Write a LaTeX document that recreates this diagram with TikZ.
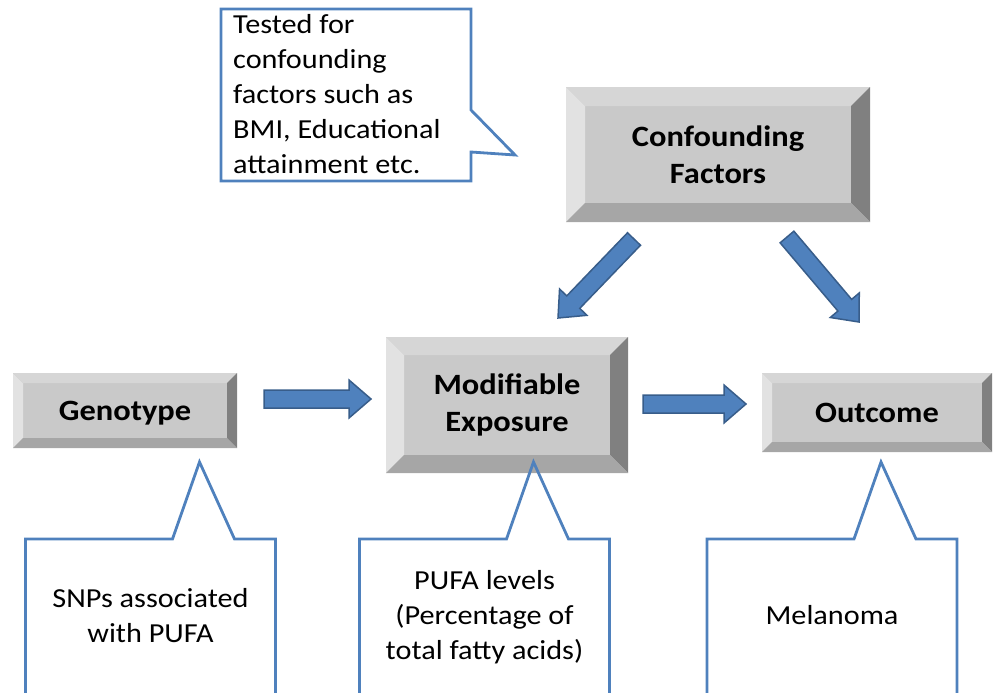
\documentclass[tikz,border=0pt]{standalone}
\usepackage{fontspec}
\setmainfont{Carlito}[FakeStretch=1.1]
\usetikzlibrary{calc}
\usetikzlibrary{positioning}

\definecolor{facegray}{RGB}{201,201,201}
\definecolor{bvleft}{RGB}{226,226,226}
\definecolor{bvtop}{RGB}{214,214,214}
\definecolor{bvright}{RGB}{128,128,128}
\definecolor{bvbottom}{RGB}{166,166,166}
\definecolor{arrfill}{RGB}{79,129,189}
\definecolor{arredge}{RGB}{56,93,138}
\definecolor{callblue}{RGB}{79,129,189}

\newcommand{\lblfont}{\fontsize{29.5}{37}\selectfont\bfseries}
\newcommand{\notefont}{\fontsize{27.5}{35}\selectfont}

\tikzset{
  bevelbox/.style={fill=facegray, inner sep=0pt, font=\lblfont, align=center,
    path picture={
      \coordinate (nw) at (path picture bounding box.north west);
      \coordinate (ne) at (path picture bounding box.north east);
      \coordinate (sw) at (path picture bounding box.south west);
      \coordinate (se) at (path picture bounding box.south east);
      \fill[bvleft] (nw) -- (sw) -- ($(sw)+(#1,#1)$) -- ($(nw)+(#1,-#1)$) -- cycle;
      \fill[bvtop] (nw) -- (ne) -- ($(ne)+(-#1,-#1)$) -- ($(nw)+(#1,-#1)$) -- cycle;
      \fill[bvright] (ne) -- (se) -- ($(se)+(-#1,#1)$) -- ($(ne)+(-#1,-#1)$) -- cycle;
      \fill[bvbottom] (sw) -- (se) -- ($(se)+(-#1,#1)$) -- ($(sw)+(#1,#1)$) -- cycle;
    }},
  bevelbox/.default=10pt,
  blockarr/.style={fill=arrfill, draw=arredge, line width=1.5pt, line join=miter},
  notetext/.style={font=\notefont, inner sep=0pt, align=center},
  calloutline/.style={draw=callblue, line width=2.8pt, line join=miter}
}

% block arrow from tail (#1) to tip (#2)
\newcommand{\blockarrow}[2]{%
  \coordinate (hb) at ($(#2)!22pt!(#1)$);
  \filldraw[blockarr] ($(#1)!9pt!90:(#2)$) -- ($(hb)!9pt!90:(#2)$) -- ($(hb)!19pt!90:(#2)$) -- (#2)
    -- ($(hb)!19pt!-90:(#2)$) -- ($(hb)!9pt!-90:(#2)$) -- ($(#1)!9pt!-90:(#2)$) -- cycle;}

% callout under a text node, pointing up
\newcommand{\calloutup}[1]{%
  \coordinate (cu) at (#1 |- 0,539);
  \draw[calloutline] ($(cu)+(-125,0)$) -- ($(cu)+(22,0)$) -- ($(cu)+(49,-77)$) -- ($(cu)+(84,0)$)
    -- ($(cu)+(125,0)$) -- ($(cu)+(125,160)$) -- ($(cu)+(-125,160)$) -- cycle;}

\begin{document}
\begin{tikzpicture}[x=1pt,y=-1pt]
\useasboundingbox (0,0) rectangle (993,693);
\clip (0,0) rectangle (993,693);

% boxes
\node[bevelbox=19pt, minimum width=304pt, minimum height=135pt] (conf) at (718,154.5) {Confounding\\Factors};
\node[bevelbox, minimum width=224pt, minimum height=75pt, text depth=0pt] (geno) at (125,410.5) {Genotype};
\node[bevelbox=18pt, minimum width=242pt, minimum height=136pt] (expo) at (507,405) {Modifiable\\Exposure};
\node[bevelbox, minimum width=230pt, minimum height=79pt] (outc) at (877,412.5) {Outcome};

% arrows
\coordinate (ge-s) at (264,399);
\coordinate (ge-e) at (371,399);
\coordinate (eo-s) at (643,404);
\coordinate (eo-e) at (746,404);
\coordinate (ce-s) at (634,239);
\coordinate (ce-e) at (558,318);
\coordinate (co-s) at (787,237);
\coordinate (co-e) at (859,322);
\blockarrow{ge-s}{ge-e}
\blockarrow{eo-s}{eo-e}
\blockarrow{ce-s}{ce-e}
\blockarrow{co-s}{co-e}

% callouts
\node[notetext, anchor=west, align=left] (tested) at (233,94) {Tested for\\confounding\\factors such as\\BMI, Educational\\attainment etc.};
\draw[calloutline] ($(tested.west)+(-12,-85)$) -- ($(tested.west)+(238,-85)$) -- ($(tested.west)+(238,16)$)
  -- ($(tested.west)+(282,61)$) -- ($(tested.west)+(238,58)$) -- ($(tested.west)+(238,87)$)
  -- ($(tested.west)+(-12,87)$) -- cycle;

\node[notetext] (snps) at (150.5,615.5) {SNPs associated\\with PUFA};
\node[notetext] (pufa) at (484.5,617) {PUFA levels\\(Percentage of\\total fatty acids)};
\node[notetext] (melan) at (832,615.5) {Melanoma};
\calloutup{snps}
\calloutup{pufa}
\calloutup{melan}

\end{tikzpicture}
\end{document}
